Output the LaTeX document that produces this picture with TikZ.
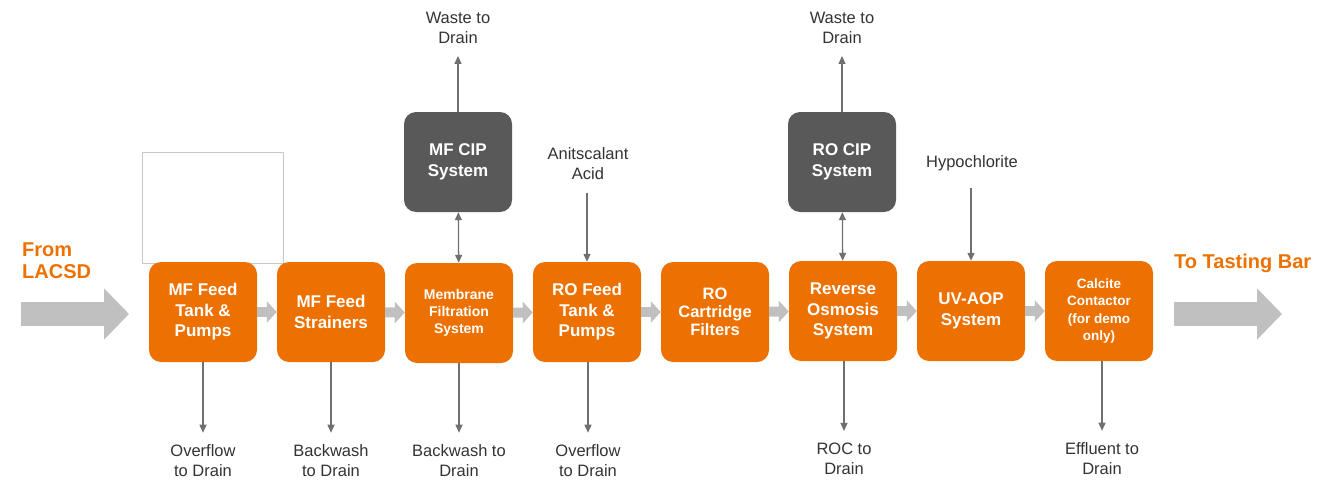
\documentclass[tikz,border=0pt]{standalone}
\usepackage{fontspec}
\setmainfont{Liberation Sans}
\usepackage{tikz}
\usetikzlibrary{arrows.meta,positioning}
\definecolor{plantorange}{RGB}{237,113,0}
\definecolor{cipgray}{RGB}{89,89,89}
\definecolor{flowgray}{RGB}{192,192,192}
\definecolor{linegray}{RGB}{112,112,112}
\tikzset{
  unit/.style={rounded corners=12pt, fill=plantorange, text=white, align=center,
    font=\bfseries\fontsize{17}{20.5}\selectfont, minimum width=108pt, minimum height=100pt, inner sep=0pt},
  cip/.style={unit, fill=cipgray},
  lbl/.style={font=\fontsize{16.5}{20}\selectfont, align=center, text=black!80, inner sep=0pt},
  ends/.style={font=\bfseries\fontsize{20}{22}\selectfont, align=left, text=plantorange, inner sep=0pt, anchor=west},
  pipe/.style={draw=linegray, line width=1.3pt, -{Triangle[length=8pt,width=7pt]}},
  flow/.style={draw=flowgray, line width=10pt, -{Triangle[length=10pt,width=21pt]}},
  bigflow/.style={draw=flowgray, line width=24pt, -{Triangle[length=25pt,width=50pt]}}
}
\begin{document}
\begin{tikzpicture}[x=1pt, y=-1pt]
      \useasboundingbox (0, 0) rectangle (1340, 479);
      \draw[black!22, line width=0.8pt] (142, 152) rectangle (283, 263);
      \node[unit] (mffeed) at (203, 312) {MF Feed\\Tank \&\\Pumps};
      \node[unit] (strain) at (331, 312) {MF Feed\\Strainers};
      \node[unit, font=\bfseries\fontsize{14}{17}\selectfont] (mem) at (459, 313) {Membrane\\Filtration\\System};
      \node[unit] (rofeed) at (587, 312) {RO Feed\\Tank \&\\Pumps};
      \node[unit, font=\bfseries\fontsize{16.5}{18}\selectfont] (cart) at (715, 312) {RO\\Cartridge\\Filters};
      \node[unit] (ro) at (843, 311) {Reverse\\Osmosis\\System};
      \node[unit] (uv) at (971, 311) {UV-AOP\\System};
      \node[unit, font=\bfseries\fontsize{13.5}{17.5}\selectfont] (calc) at (1099, 311) {Calcite\\Contactor\\(for demo\\only)};
      \node[cip] (mfcip) at (458, 162) {MF CIP\\System};
      \node[cip] (rocip) at (842, 162) {RO CIP\\System};
      \node[lbl] (mfwaste) at (458, 28) {Waste to\\Drain};
      \node[lbl] (rowaste) at (842, 28) {Waste to\\Drain};
      \node[lbl] (acid) at (588, 164) {Anitscalant\\Acid};
      \node[lbl] (hypo) at (972, 163) {Hypochlorite};
      \node[lbl] (d1) at (203, 461) {Overflow\\to Drain};
      \node[lbl] (d2) at (331, 461) {Backwash\\to Drain};
      \node[lbl] (d3) at (459, 461) {Backwash to\\Drain};
      \node[lbl] (d4) at (588, 461) {Overflow\\to Drain};
      \node[lbl] (d5) at (844, 459) {ROC to\\Drain};
      \node[lbl] (d6) at (1102, 459) {Effluent to\\Drain};
      \node[ends] (from) at (22, 261) {From\\LACSD};
      \node[ends] (to) at (1174, 263) {To Tasting Bar};
      \coordinate (inA) at (21, 314);
      \coordinate (inB) at (129, 314);
      \coordinate (outA) at (1174, 314);
      \coordinate (outB) at (1282, 314);
      \draw[bigflow] (inA) -- (inB);
      \draw[bigflow] (outA) -- (outB);
      \foreach \a/\b in {mffeed/strain, strain/mem, mem/rofeed, rofeed/cart, cart/ro, ro/uv, uv/calc}
        \draw[flow] (\a) -- (\b);
      \draw[pipe, shorten >=12pt] (mfcip) -- (mfwaste);
      \draw[pipe, shorten >=12pt] (rocip) -- (rowaste);
      \draw[pipe, {Triangle[length=8pt,width=7pt]}-{Triangle[length=8pt,width=7pt]}] (mfcip) -- (mem);
      \draw[pipe, {Triangle[length=8pt,width=7pt]}-{Triangle[length=8pt,width=7pt]}] (rocip) -- (ro);
      \draw[pipe, shorten <=13pt] (acid.south -| rofeed) -- (rofeed);
      \draw[pipe, shorten <=17pt] (hypo.south -| uv) -- (uv);
      \foreach \a/\b in {mffeed/d1, strain/d2, mem/d3, rofeed/d4, ro/d5, calc/d6}
        \draw[pipe, shorten >=12pt] (\a.south -| \b) -- (\b);
\end{tikzpicture}
\end{document}
